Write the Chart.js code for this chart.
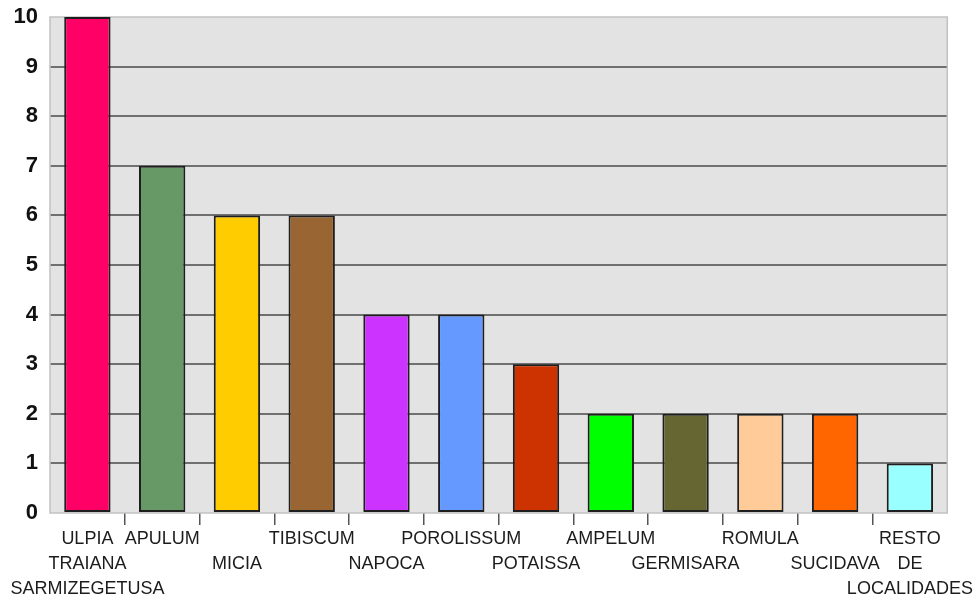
<!DOCTYPE html>
<html>
<head>
<meta charset="utf-8">
<script src="https://cdn.jsdelivr.net/npm/chart.js@4/dist/chart.umd.min.js"></script>
<style>
  html, body { margin: 0; padding: 0; background: #ffffff; }
  #wrap { width: 976px; height: 604px; position: relative; }
</style>
</head>
<body>
<div id="wrap"><canvas id="c" width="976" height="604"></canvas></div>
<script>
// Localities (lower-row names get an empty first line so they sit one line down)
const categories = [
  ['ULPIA', 'TRAIANA', 'SARMIZEGETUSA'],
  ['APULUM'],
  ['', 'MICIA'],
  ['TIBISCUM'],
  ['', 'NAPOCA'],
  ['POROLISSUM'],
  ['', 'POTAISSA'],
  ['AMPELUM'],
  ['', 'GERMISARA'],
  ['ROMULA'],
  ['', 'SUCIDAVA'],
  ['RESTO', 'DE', 'LOCALIDADES']
];
const counts = [10, 7, 6, 6, 4, 4, 3, 2, 2, 2, 2, 1];
const barColors = [
  '#ff0066', '#669966', '#ffcc00', '#996633', '#cc33ff', '#6699ff',
  '#cc3300', '#00ff00', '#666633', '#ffcc99', '#ff6600', '#99ffff'
];
const yMin = 0, yMax = 10, yStep = 1;

// Grey plot panel with a thin light frame
const panel = {
  id: 'panel',
  beforeDraw(chart) {
    const { ctx, chartArea: a } = chart;
    ctx.save();
    ctx.fillStyle = '#e3e3e3';
    ctx.fillRect(a.left, a.top, a.right - a.left, a.bottom - a.top);
    ctx.restore();
  },
  beforeDatasetsDraw(chart) {
    const { ctx, chartArea: a } = chart;
    ctx.save();
    ctx.strokeStyle = '#c2c2c2';
    ctx.lineWidth = 1.5;
    ctx.strokeRect(a.left, a.top, a.right - a.left, a.bottom - a.top);
    ctx.restore();
  }
};

new Chart(document.getElementById('c'), {
  type: 'bar',
  data: {
    labels: categories,
    datasets: [{
      data: counts,
      backgroundColor: barColors,
      borderColor: '#1e1e1e',
      borderWidth: 2,
      borderSkipped: false,
      categoryPercentage: 1,
      barPercentage: 0.62
    }]
  },
  options: {
    responsive: false,
    animation: false,
    layout: { padding: { top: 17, right: 26, left: 0, bottom: 0 } },
    plugins: { legend: { display: false }, tooltip: { enabled: false } },
    scales: {
      x: {
        offset: true,
        border: { display: false },
        grid: {
          offset: true,
          drawOnChartArea: false,
          drawTicks: true,
          tickLength: 12,
          lineWidth: 1.5,
          // only the inner category boundaries carry a tick mark
          color: (c) => (c.index === undefined || c.index === 0) ? 'rgba(0,0,0,0)' : '#555555'
        },
        ticks: {
          autoSkip: false,
          maxRotation: 0,
          minRotation: 0,
          padding: 2,
          color: '#1c1c1c',
          font: { family: '"Liberation Sans", Arial, sans-serif', size: 18, lineHeight: 1.38 }
        },
        afterFit(s) { s.height = 91; }
      },
      y: {
        min: yMin,
        max: yMax,
        border: { display: false },
        grid: {
          drawTicks: false,
          color: (c) => (c.tick && (c.tick.value === yMin || c.tick.value === yMax)) ? 'rgba(0,0,0,0)' : '#707070',
          lineWidth: 2
        },
        ticks: {
          stepSize: yStep,
          padding: 12,
          color: '#111111',
          font: { family: '"Liberation Sans", Arial, sans-serif', size: 22, weight: 'bold' }
        },
        afterFit(s) { s.width = 50; s.paddingTop = 0; s.paddingBottom = 0; }
      }
    }
  },
  plugins: [panel]
});
</script>
</body>
</html>
